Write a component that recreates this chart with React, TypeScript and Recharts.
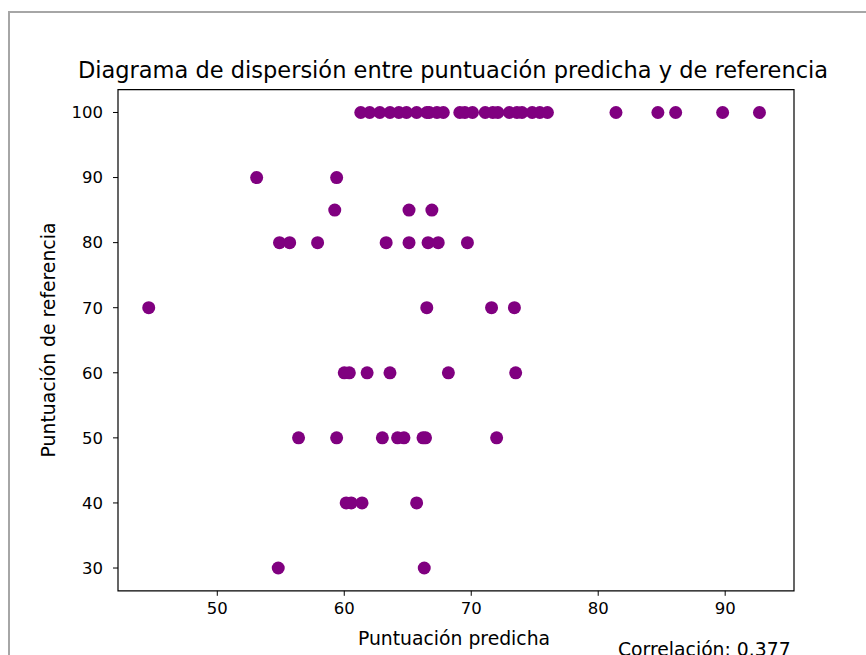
import { ScatterChart, Scatter, XAxis, YAxis, ReferenceArea } from 'recharts';

// puntuación de referencia -> puntuaciones predichas
const pred100 = [
  61.3, 62.0, 62.8, 63.6, 64.3, 64.9, 65.7, 66.5, 66.7, 67.3, 67.8, 69.1, 69.5,
  70.1, 71.1, 71.7, 72.1, 73.0, 73.6, 74.0, 74.8, 75.4, 76.0, 81.4, 84.7, 86.1,
  89.8, 92.7,
];
const pred90 = [53.1, 59.4];
const pred85 = [59.25, 65.1, 66.9];
const pred80 = [54.9, 55.7, 57.9, 63.3, 65.1, 66.6, 67.4, 69.7];
const pred70 = [44.6, 66.5, 71.6, 73.4];
const pred60 = [60.0, 60.4, 61.8, 63.6, 68.2, 73.5];
const pred50 = [56.4, 59.4, 63.0, 64.2, 64.7, 66.2, 66.4, 72.0];
const pred40 = [60.15, 60.55, 61.4, 65.7];
const pred30 = [54.8, 66.3];

const groups: [number, number[]][] = [
  [100, pred100],
  [90, pred90],
  [85, pred85],
  [80, pred80],
  [70, pred70],
  [60, pred60],
  [50, pred50],
  [40, pred40],
  [30, pred30],
];

const xTicks = [50, 60, 70, 80, 90];
const yTicks = [30, 40, 50, 60, 70, 80, 90, 100];
const xDomain = [42.18, 95.42];
const yDomain = [26.5, 103.5];

const data = groups.flatMap(([ref, preds]) =>
  preds.map((p) => ({ predicha: p, referencia: ref }))
);

const font = 'DejaVu Sans, sans-serif';

const Dot = (props: any) => {
  const { cx, cy } = props;
  return <circle cx={cx} cy={cy} r={6.5} fill="#800080" />;
};

export default function App() {
  return (
    <div
      style={{
        position: 'absolute',
        left: 0,
        top: 0,
        width: 866,
        height: 655,
        background: '#fff',
        overflow: 'hidden',
        fontFamily: font,
      }}
    >
      <div
        style={{
          position: 'absolute',
          left: 8,
          top: 11,
          width: 900,
          height: 700,
          borderLeft: '2px solid #a6a6a6',
          borderTop: '2px solid #a6a6a6',
        }}
      />
      <ScatterChart
        width={866}
        height={655}
        margin={{ top: 89.7, right: 72, bottom: 24.2, left: 58 }}
        style={{ position: 'absolute', left: 0, top: 0 }}
      >
        <XAxis
          type="number"
          dataKey="predicha"
          domain={xDomain}
          ticks={xTicks}
          height={40}
          tickSize={5}
          tickMargin={6}
          axisLine={false}
          tickLine={{ stroke: '#000' }}
          tick={{ fill: '#000', fontSize: 16.5, fontFamily: font }}
          allowDataOverflow
        />
        <YAxis
          type="number"
          dataKey="referencia"
          domain={yDomain}
          ticks={yTicks}
          width={60}
          tickSize={5}
          tickMargin={10}
          axisLine={false}
          tickLine={{ stroke: '#000' }}
          tick={{ fill: '#000', fontSize: 16.5, fontFamily: font }}
          allowDataOverflow
        />
        <ReferenceArea
          x1={xDomain[0]}
          x2={xDomain[1]}
          y1={yDomain[0]}
          y2={yDomain[1]}
          fill="none"
          fillOpacity={0}
          stroke="#000"
          strokeWidth={1.2}
          strokeOpacity={1}
        />
        <Scatter data={data} shape={<Dot />} isAnimationActive={false} />
      </ScatterChart>
      <div
        style={{
          position: 'absolute',
          left: 453,
          top: 70,
          transform: 'translate(-50%, -50%)',
          fontSize: 22.5,
          whiteSpace: 'nowrap',
          color: '#000',
        }}
      >
        Diagrama de dispersión entre puntuación predicha y de referencia
      </div>
      <div
        style={{
          position: 'absolute',
          left: 454,
          top: 638,
          transform: 'translate(-50%, -50%)',
          fontSize: 18.8,
          whiteSpace: 'nowrap',
          color: '#000',
        }}
      >
        Puntuación predicha
      </div>
      <div
        style={{
          position: 'absolute',
          left: 48,
          top: 340,
          transform: 'translate(-50%, -50%) rotate(-90deg)',
          fontSize: 18.8,
          whiteSpace: 'nowrap',
          color: '#000',
        }}
      >
        Puntuación de referencia
      </div>
      <div
        style={{
          position: 'absolute',
          left: 618,
          top: 639,
          fontSize: 18.8,
          whiteSpace: 'nowrap',
          color: '#000',
          lineHeight: '22px',
        }}
      >
        Correlación: 0.377
      </div>
    </div>
  );
}
